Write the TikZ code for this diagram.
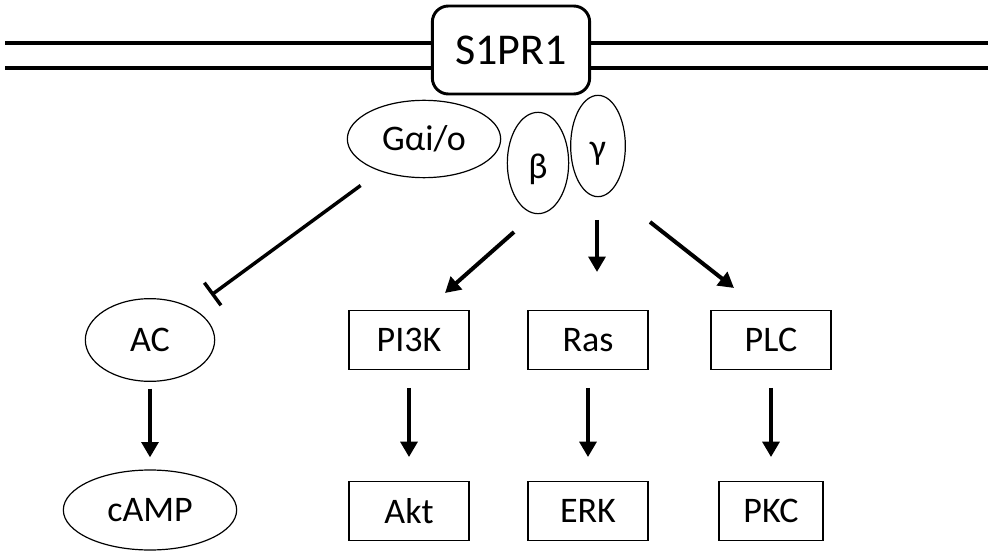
\documentclass[tikz,border=0pt]{standalone}
\usepackage{fontspec}
\setmainfont{Carlito}
\usetikzlibrary{shapes.geometric, arrows.meta, positioning, calc}

\begin{document}
\begin{tikzpicture}[x=0.75pt, y=-0.75pt,
  font=\fontsize{27}{31}\selectfont,
  mol/.style={ellipse, draw, line width=0.9pt, inner sep=0pt},
  kin/.style={rectangle, draw, line width=0.9pt, inner sep=0pt, minimum width=90pt, minimum height=44pt},
  act/.style={-{Triangle[length=11.5pt, width=12.5pt]}, line width=3pt},
  inh/.style={-{Bar[width=21pt]}, line width=2.6pt},
  mem/.style={line width=3pt}
]
  \useasboundingbox (0,0) rectangle (988,552);
  % membrane
  \draw[mem] (5,43) -- (988,43);
  \draw[mem] (5,68) -- (988,68);
  \node[draw, fill=white, rounded corners=12pt, line width=2.2pt, minimum width=118pt, minimum height=66pt, font=\fontsize{33}{37}\selectfont] (s1pr1) at (511,50) {S1PR1};
  % G protein
  \node[mol, minimum width=115pt, minimum height=58pt] (galpha) at (424,139) {Gαi/o};
  \node[mol, minimum width=46pt, minimum height=76pt] (gbeta) at (538,163) {\smash{\raisebox{-12pt}{β}}};
  \node[mol, minimum width=41pt, minimum height=76pt] (ggamma) at (598,146) {\smash{\raisebox{-10pt}{γ}}};
  % effectors
  \node[mol, minimum width=97pt, minimum height=62pt] (ac) at (150,340) {AC};
  \node[mol, minimum width=130pt, minimum height=60pt] (camp) at (150,510) {cAMP};
  \node[kin] (pi3k) at (409,340) {PI3K};
  \node[kin] (ras) at (588,340) {Ras};
  \node[kin] (plc) at (771,340) {PLC};
  \node[kin] (akt) at (409,511) {Akt};
  \node[kin] (erk) at (588,511) {ERK};
  \node[kin, minimum width=78pt] (pkc) at (771,511) {PKC};
  % arrows from the beta-gamma dimer
  \coordinate (bgPi) at (514,232); \coordinate (toPi) at (445,293);
  \coordinate (bgRas) at (597,220); \coordinate (toRas) at (597,272);
  \coordinate (bgPlc) at (650,222); \coordinate (toPlc) at (734,288);
  \draw[act] (bgPi) -- (toPi);
  \draw[act] (bgRas) -- (toRas);
  \draw[act] (bgPlc) -- (toPlc);
  \draw[inh, shorten <=18pt, shorten >=17pt] (galpha) -- (ac);
  \draw[act, shorten <=5pt, shorten >=9pt] (ac) -- (camp);
  \draw[act, shorten <=13.5pt, shorten >=18pt] (pi3k) -- (akt);
  \draw[act, shorten <=13.5pt, shorten >=18pt] (ras) -- (erk);
  \draw[act, shorten <=13.5pt, shorten >=18pt] (plc) -- (pkc);
\end{tikzpicture}
\end{document}
